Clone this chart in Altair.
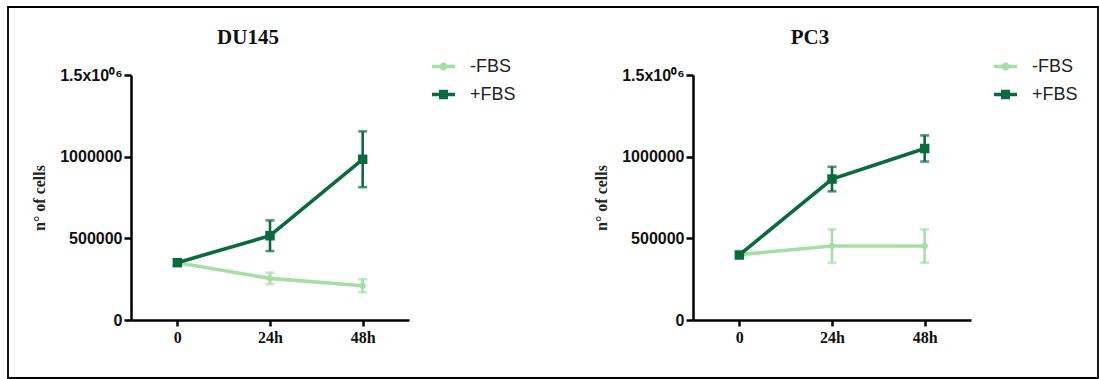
import altair as alt
import pandas as pd

times = ["0", "24h", "48h"]
series = ["-FBS", "+FBS"]

du145_minus = [350000, 255000, 210000]
du145_minus_err = [0, 35000, 40000]
du145_plus = [351000, 516000, 984000]
du145_plus_err = [0, 94000, 171000]

pc3_minus = [400000, 453000, 453000]
pc3_minus_err = [0, 102000, 102000]
pc3_plus = [398000, 863000, 1050000]
pc3_plus_err = [0, 75000, 80000]

y_ticks = [0, 500000, 1000000, 1500000]

DARK = "#0a6b3c"
LIGHT = "#a6dea6"

PATH_MINUS = "M-1,0H1M-0.2,0A0.2,0.2 0 1,0 0.2,0A0.2,0.2 0 1,0 -0.2,0"
PATH_PLUS = "M-1,0H1M-0.39,-0.26H0.39M-0.39,0.26H0.39"


def make_df(minus, minus_err, plus, plus_err):
    rows = []
    for s, vals, errs in [(series[0], minus, minus_err), (series[1], plus, plus_err)]:
        for t, v, e in zip(times, vals, errs):
            rows.append({"time": t, "series": s, "value": v, "err": e})
    return pd.DataFrame(rows)


def panel(title, minus, minus_err, plus, plus_err, frame=False):
    df = make_df(minus, minus_err, plus, plus_err)
    x = alt.X(
        "time:N",
        sort=times,
        scale=alt.Scale(type="point", padding=0.5),
        title=None,
        axis=alt.Axis(
            labelAngle=0,
            labelFont="Liberation Serif",
            labelFontWeight="bold",
            labelFontSize=16,
            labelColor="#111",
            labelPadding=3,
            tickSize=6,
            tickWidth=2.5,
            tickColor="black",
            domainWidth=2.5,
            domainColor="black",
            grid=False,
        ),
    )
    yscale = alt.Scale(domain=[0, 1500000], nice=False)
    y = alt.Y(
        "value:Q",
        scale=yscale,
        title="n° of cells",
        axis=alt.Axis(
            values=y_ticks,
            labelExpr="datum.value == 1500000 ? '1.5x10⁰⁶' : format(datum.value, 'd')",
            labelFont="Liberation Sans",
            labelFontWeight="bold",
            labelFontSize=16,
            labelColor="#111",
            labelPadding=2,
            tickSize=7,
            tickWidth=2.5,
            tickColor="black",
            domainWidth=2.5,
            domainColor="black",
            grid=False,
            titleFont="Liberation Serif",
            titleFontWeight="bold",
            titleFontSize=16,
            titleColor="#222",
            titlePadding=12,
        ),
    )
    cscale = alt.Scale(domain=series, range=[LIGHT, DARK])
    stroke_enc = alt.Stroke("series:N", scale=cscale, legend=None)
    fill_enc = alt.Fill("series:N", scale=cscale, legend=None)
    base = alt.Chart(df).encode(x=x)

    lines = base.mark_line(strokeWidth=3.6).encode(y=y, stroke=stroke_enc)

    eb = base.transform_filter("datum.err > 0").transform_calculate(
        lo="datum.value - datum.err", hi="datum.value + datum.err"
    )
    rules = eb.mark_rule(strokeWidth=2.6).encode(
        y=alt.Y("lo:Q", scale=yscale), y2="hi:Q", stroke=stroke_enc
    )
    cap_lo = eb.mark_tick(size=9, thickness=2.6).encode(
        y=alt.Y("lo:Q", scale=yscale), fill=fill_enc
    )
    cap_hi = eb.mark_tick(size=9, thickness=2.6).encode(
        y=alt.Y("hi:Q", scale=yscale), fill=fill_enc
    )
    points = base.mark_point(filled=True, opacity=1).encode(
        y=alt.Y("value:Q", scale=yscale),
        fill=fill_enc,
        shape=alt.condition(
            alt.datum.series == "+FBS", alt.value("square"), alt.value("circle")
        ),
        size=alt.condition(alt.datum.series == "+FBS", alt.value(90), alt.value(40)),
    )

    leg = alt.Legend(
        orient="none",
        legendX=299,
        legendY=-22,
        title=None,
        labelFont="Liberation Sans",
        labelFontSize=18,
        labelColor="#222",
        labelOffset=13,
        symbolSize=529,
        symbolStrokeWidth=3.4,
        symbolOpacity=1,
        rowPadding=5,
        padding=0,
    )
    legend_layer = base.mark_point(filled=False, opacity=0).encode(
        y=alt.Y("value:Q", scale=yscale),
        color=alt.Color("series:N", scale=cscale, legend=leg),
        shape=alt.Shape(
            "series:N",
            scale=alt.Scale(domain=series, range=[PATH_MINUS, PATH_PLUS]),
            legend=leg,
        ),
    )

    title_mark = alt.Chart(alt.Data(values=[{"t": title}])).mark_text(
        font="Liberation Serif",
        fontSize=21,
        fontWeight="bold",
        color="#111",
        align="center",
        baseline="middle",
    ).encode(text="t:N", x=alt.value(117), y=alt.value(-37))

    layers = [lines, rules, cap_lo, cap_hi, points, legend_layer, title_mark]
    if frame:
        fr = alt.Chart(alt.Data(values=[{"k": 1}])).mark_rect(
            fillOpacity=0, stroke="black", strokeWidth=1.8
        ).encode(
            x=alt.value(-123), x2=alt.value(967), y=alt.value(-68), y2=alt.value(303)
        )
        layers.append(fr)

    return alt.layer(*layers).properties(width=278, height=245)


left = panel("DU145", du145_minus, du145_minus_err, du145_plus, du145_plus_err, frame=True)
right = panel("PC3", pc3_minus, pc3_minus_err, pc3_plus, pc3_plus_err)

chart = (
    alt.hconcat(left, right, spacing=284, bounds="flush")
    .resolve_scale(color="independent", shape="independent")
    .properties(
        autosize=alt.AutoSizeParams(type="pad"),
        padding={"left": 7, "top": 6, "right": 0, "bottom": 0},
    )
    .configure_view(stroke=None)
)

chart.save("out.html", embed_options={"renderer": "svg", "actions": False})
